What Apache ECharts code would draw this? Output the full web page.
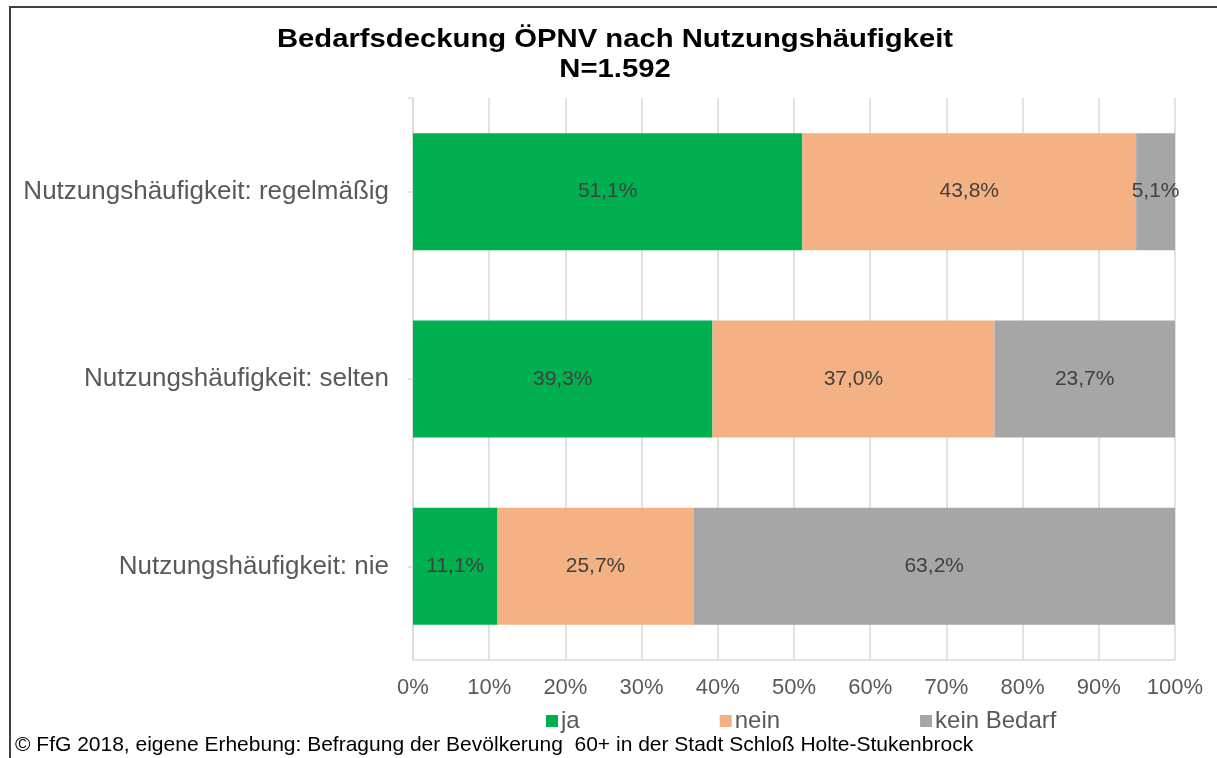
<!DOCTYPE html>
<html lang="de">
<head>
    <meta charset="UTF-8">
    <script src="https://cdn.jsdelivr.net/npm/echarts@6/dist/echarts.min.js"></script>
    <title>Bedarfsdeckung ÖPNV</title>
</head>
<body>
    <style>
        html, body, #main {
            margin: 0;
            width: 1217px;
            height: 758px;
            background: #fff;
        }
    </style>
    <div id="main"></div>
    <script>
        var categories = ['Nutzungshäufigkeit: regelmäßig', 'Nutzungshäufigkeit: selten', 'Nutzungshäufigkeit: nie'];
        var ja = [51.1, 39.3, 11.1];
        var nein = [43.8, 37.0, 25.7];
        var keinBedarf = [5.1, 23.7, 63.2];
        var seriesNames = ['ja', 'nein', 'kein Bedarf'];
        var colors = ['#00b050', '#f4b183', '#a6a6a6'];

        var font = '"Liberation Sans", Arial, sans-serif';
        var chart = echarts.init(document.getElementById('main'));

        function fmt(p) {
            return p.value.toFixed(1).replace('.', ',') + '%';
        }

        function bar(name, data, color) {
            return {
                name: name,
                type: 'bar',
                stack: 'total',
                barWidth: 117,
                data: data,
                itemStyle: { color: color },
                label: {
                    show: true,
                    position: 'inside',
                    formatter: fmt,
                    color: '#404040',
                    fontSize: 21,
                    fontFamily: font
                }
            };
        }

        chart.setOption({
            animation: false,
            legend: {
                data: seriesNames,
                left: 541,
                top: 704,
                itemWidth: 12,
                itemHeight: 12,
                itemGap: 140,
                icon: 'rect',
                textStyle: { fontFamily: font, fontSize: 24, color: '#595959', padding: [0, 0, 0, -2] }
            },
            grid: { left: 413, right: 42, top: 98, bottom: 98 },
            xAxis: {
                type: 'value',
                min: 0,
                max: 100,
                interval: 10,
                axisLabel: {
                    formatter: '{value}%',
                    fontFamily: font,
                    fontSize: 22,
                    color: '#595959',
                    margin: 17
                },
                axisLine: { show: false },
                axisTick: { show: false },
                splitLine: { lineStyle: { color: '#d9d9d9', width: 1.5 } }
            },
            yAxis: {
                type: 'category',
                inverse: true,
                data: categories,
                axisLine: { show: true, lineStyle: { color: '#d9d9d9', width: 1.5 } },
                axisTick: { show: true, alignWithLabel: true, length: 5, lineStyle: { color: '#d9d9d9', width: 1.5 } },
                axisLabel: {
                    fontFamily: font,
                    fontSize: 26,
                    color: '#595959',
                    margin: 24
                }
            },
            series: [
                bar(seriesNames[0], ja, colors[0]),
                bar(seriesNames[1], nein, colors[1]),
                bar(seriesNames[2], keinBedarf, colors[2])
            ],
            graphic: [
                {
                    type: 'polyline',
                    shape: { points: [[10, 758], [10, 7], [1217, 7]] },
                    style: { stroke: '#404040', lineWidth: 2, fill: null }
                },
                {
                    type: 'line',
                    shape: { x1: 413, y1: 660, x2: 1175, y2: 660 },
                    style: { stroke: '#d9d9d9', lineWidth: 1.5 }
                },
                {
                    type: 'line',
                    shape: { x1: 408, y1: 98, x2: 413, y2: 98 },
                    style: { stroke: '#d9d9d9', lineWidth: 1.5 }
                },
                {
                    // title, slightly widened like the original
                    type: 'text',
                    x: 615,
                    y: 25,
                    scaleX: 1.17,
                    style: {
                        text: 'Bedarfsdeckung ÖPNV nach Nutzungshäufigkeit\nN=1.592',
                        align: 'center',
                        fontFamily: font,
                        fontWeight: 'bold',
                        fontSize: 25,
                        lineHeight: 30,
                        fill: '#000'
                    }
                },
                {
                    type: 'text',
                    x: 15,
                    y: 735,
                    style: {
                        text: '© FfG 2018, eigene Erhebung: Befragung der Bevölkerung  60+ in der Stadt Schloß Holte-Stukenbrock',
                        fontFamily: font,
                        fontSize: 21,
                        fill: '#000'
                    }
                }
            ]
        });
    </script>
</body>
</html>
